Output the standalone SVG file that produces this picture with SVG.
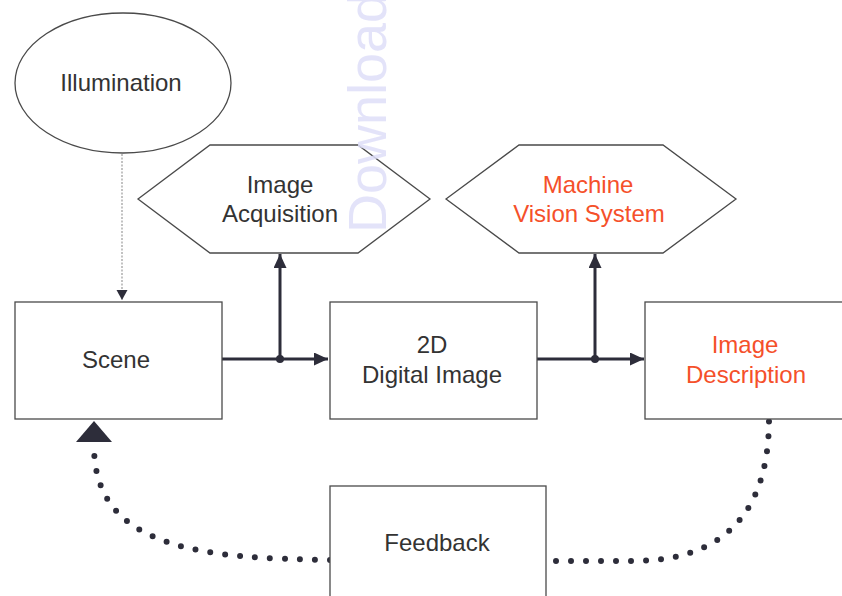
<svg xmlns="http://www.w3.org/2000/svg" width="842" height="596" viewBox="0 0 842 596">
  <style>
    .shape { fill: #ffffff; stroke: #4a4a4a; stroke-width: 1.3; }
    .lbl { font-family: "Liberation Sans", Arial, sans-serif; font-size: 24px; fill: #333333; text-anchor: middle; }
    .red { fill: #f5502a; }
    .conn { fill: none; stroke: #2d2d3a; stroke-width: 3; }
    .dots { fill: none; stroke: #2d2d3a; stroke-width: 6; stroke-linecap: round; stroke-dasharray: 0 15; }
    .faint { fill: none; stroke: #9a9a9a; stroke-width: 1.2; stroke-dasharray: 2 1.5; }
    .wm { font-family: "Liberation Sans", Arial, sans-serif; font-size: 54px; fill: #dedef8; fill-opacity: 0.85; }
  </style>
  <defs>
    <marker id="arr" markerUnits="userSpaceOnUse" markerWidth="16" markerHeight="14" refX="14" refY="6.5" orient="auto">
      <path d="M0,0 L14,6.5 L0,13 Z" fill="#2d2d3a"/>
    </marker>
    <marker id="arrSmall" markerUnits="userSpaceOnUse" markerWidth="12" markerHeight="12" refX="10" refY="5.5" orient="auto">
      <path d="M0,0 L10,5.5 L0,11 Z" fill="#2d2d3a"/>
    </marker>
  </defs>

  <g id="connectors">
    <path class="faint" d="M122,154 L122,300" marker-end="url(#arrSmall)"/>
    <path class="conn" d="M222,359 L328,359" marker-end="url(#arr)"/>
    <path class="conn" d="M280,359 L280,254" marker-end="url(#arr)"/>
    <circle cx="280" cy="359" r="4" fill="#2d2d3a"/>
    <path class="conn" d="M537,359 L644,359" marker-end="url(#arr)"/>
    <path class="conn" d="M595,359 L595,254" marker-end="url(#arr)"/>
    <circle cx="595" cy="359" r="4" fill="#2d2d3a"/>
    <path class="dots" d="M330,560 C210,558 94,552 94,446"/>
    <path d="M94,421 L112,442 L76,442 Z" fill="#2d2d3a"/>
    <path class="dots" d="M556,561 L632,561 Q769,561 769,419"/>
  </g>

  <g id="illumination">
    <ellipse class="shape" cx="123" cy="83" rx="108" ry="70"/>
    <text class="lbl" x="121" y="91">Illumination</text>
  </g>

  <g id="image-acquisition">
    <polygon class="shape" points="138,199 210,145 358,145 430,199 358,253 210,253"/>
    <text class="lbl" x="280" y="193">Image</text>
    <text class="lbl" x="280" y="222">Acquisition</text>
  </g>

  <g id="machine-vision-system">
    <polygon class="shape" points="446,199 519,145 663,145 736,199 663,253 519,253"/>
    <text class="lbl red" x="588" y="193">Machine</text>
    <text class="lbl red" x="589" y="222">Vision System</text>
  </g>

  <g id="scene">
    <rect class="shape" x="15" y="302" width="207" height="117"/>
    <text class="lbl" x="116" y="368">Scene</text>
  </g>

  <g id="digital-image">
    <rect class="shape" x="330" y="302" width="207" height="117"/>
    <text class="lbl" x="432" y="353">2D</text>
    <text class="lbl" x="432" y="383">Digital Image</text>
  </g>

  <g id="image-description">
    <rect class="shape" x="645" y="302" width="205" height="117"/>
    <text class="lbl red" x="745" y="353">Image</text>
    <text class="lbl red" x="746" y="383">Description</text>
  </g>

  <g id="feedback">
    <rect class="shape" x="330" y="486" width="216" height="120"/>
    <text class="lbl" x="437" y="551">Feedback</text>
  </g>

  <text class="wm" transform="translate(386,233) rotate(-90)">Download</text>
</svg>
